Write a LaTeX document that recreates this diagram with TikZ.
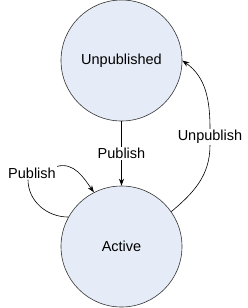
\documentclass[tikz,border=0pt]{standalone}
\usepackage{fontspec}
\setmainfont{Liberation Sans}
\usepackage{tikz}
\usetikzlibrary{positioning,arrows.meta}
\definecolor{statefill}{RGB}{230,236,247}

\begin{document}
\begin{tikzpicture}[x=1pt, y=-1pt, >={Stealth[length=7pt,width=5pt]},
  font=\fontsize{14.5}{17}\selectfont, line width=0.6pt,
  state/.style={draw=black!80,circle,fill=statefill,minimum size=121pt,inner sep=0pt},
  lbl/.style={fill=white,inner sep=1pt}]
  \useasboundingbox (0,0) rectangle (247,308);
  % states
  \node[state] (unpub) at (121.5,60.5) {Unpublished};
  \node[state] (active) at (121.5,246.5) {Active};
  % transitions
  \draw[->] (unpub) -- node[lbl] (pubdown) {Publish} (active);
  \node[lbl] (unpublbl) at (210,137) {Unpublish};
  \draw (active.35) to[out=40,in=-90] (unpublbl.south);
  \draw[->] (unpublbl.north) to[out=90,in=-35] (unpub.east);
  \node[lbl] (selfpub) at (32,173) {Publish};
  \draw (active.151) to[out=180,in=-90] ([xshift=-4pt]selfpub.south);
  \draw[->] (selfpub.north east) to[out=15,in=125] (active.117);
\end{tikzpicture}
\end{document}
